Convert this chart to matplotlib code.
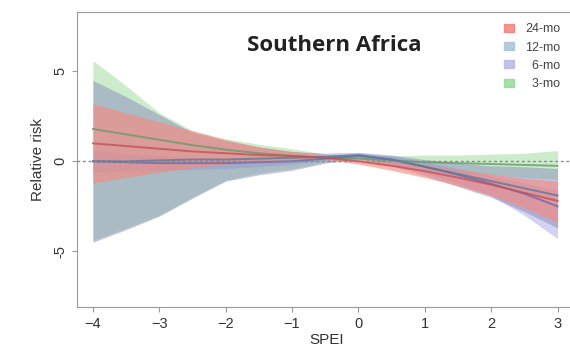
import numpy as np
import matplotlib
matplotlib.use("Agg")
import matplotlib.pyplot as plt
from matplotlib.patches import Patch

plt.rcParams['font.family'] = ['Liberation Sans', 'DejaVu Sans']

# SPEI grid and estimated relative-risk curves (fit, lower, upper)
spei = [-4, -3.5, -3, -2.5, -2, -1.5, -1, -0.5, 0, 0.5, 1, 1.5, 2, 2.5, 3]

fit_24 = [1.0, 0.85, 0.7, 0.55, 0.45, 0.35, 0.3, 0.2, 0.0, -0.25, -0.55, -0.9, -1.3, -1.75, -2.2]
lo_24 = [-1.2, -0.9, -0.6, -0.35, -0.15, 0.0, 0.1, 0.1, -0.15, -0.5, -0.9, -1.35, -1.9, -2.6, -3.4]
hi_24 = [3.2, 2.7, 2.2, 1.7, 1.2, 0.8, 0.55, 0.35, 0.15, 0.0, -0.2, -0.45, -0.7, -0.95, -1.1]

fit_12 = [0.0, 0.0, 0.05, 0.1, 0.1, 0.15, 0.2, 0.25, 0.35, 0.1, -0.3, -0.7, -1.1, -1.5, -1.9]
lo_12 = [-4.5, -3.8, -3.05, -2.05, -1.1, -0.75, -0.5, -0.1, 0.15, -0.25, -0.8, -1.4, -2.0, -2.8, -3.7]
hi_12 = [4.5, 3.6, 2.6, 1.6, 1.15, 0.8, 0.55, 0.45, 0.5, 0.35, 0.1, -0.1, -0.25, -0.3, -0.4]

fit_6 = [0.0, -0.05, -0.1, -0.1, -0.1, -0.05, 0.0, 0.15, 0.3, 0.1, -0.3, -0.75, -1.25, -1.8, -2.5]
lo_6 = [-0.6, -0.55, -0.5, -0.45, -0.4, -0.3, -0.15, 0.05, 0.2, -0.15, -0.65, -1.25, -1.9, -3.0, -4.3]
hi_6 = [0.6, 0.45, 0.3, 0.2, 0.15, 0.15, 0.15, 0.25, 0.45, 0.3, -0.05, -0.4, -0.8, -1.2, -1.6]

fit_3 = [1.8, 1.5, 1.2, 0.9, 0.65, 0.45, 0.3, 0.2, 0.15, 0.05, -0.05, -0.1, -0.15, -0.2, -0.25]
lo_3 = [-4.4, -3.7, -3.0, -2.0, -1.05, -0.65, -0.4, -0.05, 0.0, -0.25, -0.45, -0.6, -0.75, -0.9, -1.0]
hi_3 = [5.6, 4.2, 2.7, 1.7, 1.25, 0.95, 0.7, 0.4, 0.3, 0.3, 0.35, 0.35, 0.4, 0.45, 0.6]

labels = ['24-mo', '12-mo', '\u20076-mo', '\u20073-mo']

fig = plt.figure(figsize=(5.7, 3.61), dpi=100)
ax = fig.add_axes([0.135, 0.1496, 0.877, 0.817])

series = [
    (fit_3, lo_3, hi_3, '#8fd68f', 0.45, '#6a9a6a'),
    (fit_6, lo_6, hi_6, '#9c9ce0', 0.45, '#6b6ba8'),
    (fit_12, lo_12, hi_12, '#8a8cbc', 0.5, '#5c7a96'),
    (fit_24, lo_24, hi_24, '#f88880', 0.62, '#c2505a'),
]
for fit, lo, hi, fc, a, lc in series:
    ax.fill_between(spei, lo, hi, color=fc, alpha=a, lw=0)
    ax.plot(spei, fit, color=lc, lw=1.4, alpha=0.8)

ax.axhline(0, color='#888888', lw=1, ls=(0, (2, 2)))

ax.set_xlim(-4.24, 3.29)
ax.set_ylim(-8.1, 8.3)
ax.set_xticks([-4, -3, -2, -1, 0, 1, 2, 3])
ax.set_yticks([-5, 0, 5])
ax.set_yticklabels(['-5', '0', '5'], rotation=90, va='center')
for s in ax.spines.values():
    s.set_color('#999999')
ax.tick_params(colors='#999999', labelcolor='#333333', labelsize=10.5)
ax.set_xlabel('SPEI', fontsize=11, color='#333333', labelpad=2)
ax.set_ylabel('Relative risk', fontsize=11, color='#333333', labelpad=6)

ax.text(0.514, 0.888, 'Southern Africa', transform=ax.transAxes, ha='center', va='center',
        fontsize=16, fontweight='bold', family='Open Sans', color='#222222')

handles = [Patch(color=c, alpha=0.8) for c in ['#f07c72', '#a3bfd3', '#b3b3e3', '#92d892']]
leg = ax.legend(handles, labels, loc='upper right', bbox_to_anchor=(0.99, 1.0),
                frameon=False, fontsize=9, handlelength=0.8, handleheight=0.6,
                labelspacing=0.5, handletextpad=0.9)
for t in leg.get_texts():
    t.set_color('#444444')

fig.savefig('out.png', dpi=100)
